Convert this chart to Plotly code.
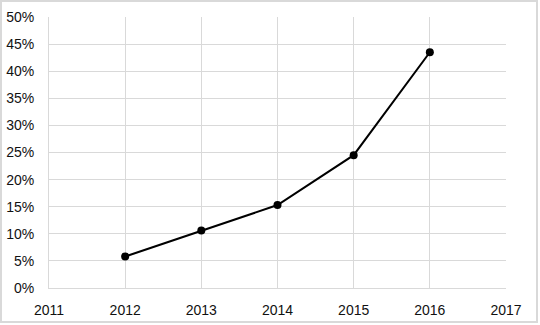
import plotly.graph_objects as go

years = [2012, 2013, 2014, 2015, 2016]
shares = [0.058, 0.106, 0.153, 0.245, 0.435]
x_ticks = [2011, 2012, 2013, 2014, 2015, 2016, 2017]

fig = go.Figure()
fig.add_trace(go.Scatter(
    x=years, y=shares, mode="lines+markers",
    line=dict(color="black", width=2),
    marker=dict(color="black", size=8),
    showlegend=False, cliponaxis=False,
))

grid = "#d9d9d9"
fnt = dict(family="Liberation Sans, Arial, sans-serif", size=14, color="#111111")
fig.update_layout(
    width=540, height=325,
    margin=dict(l=49, r=34, t=17, b=37, autoexpand=False),
    paper_bgcolor="white", plot_bgcolor="white",
    font=fnt,
    xaxis=dict(range=[2011, 2017], tickvals=x_ticks, ticktext=[str(v) for v in x_ticks],
               showgrid=True, gridcolor=grid, gridwidth=1,
               showline=True, linecolor=grid, linewidth=1, automargin=False,
               zeroline=False, ticks="", ticklabelstandoff=9, fixedrange=True),
    yaxis=dict(range=[0, 0.5], dtick=0.05, tickformat=".0%",
               showgrid=True, gridcolor=grid, gridwidth=1,
               showline=True, linecolor=grid, linewidth=1, automargin=False,
               zeroline=False, ticks="", ticklabelstandoff=11, fixedrange=True),
    shapes=[dict(type="rect", xref="paper", yref="paper",
                 x0=(1 - 49) / 457, x1=(537 - 49) / 457,
                 y0=(288 - 322) / 271, y1=(288 - 1) / 271,
                 line=dict(color="#d9d9d9", width=2), layer="below")],
)
fig.write_html("out.html", config={"displayModeBar": False},
               post_script="document.body.style.margin='0';document.body.style.overflow='hidden';")
